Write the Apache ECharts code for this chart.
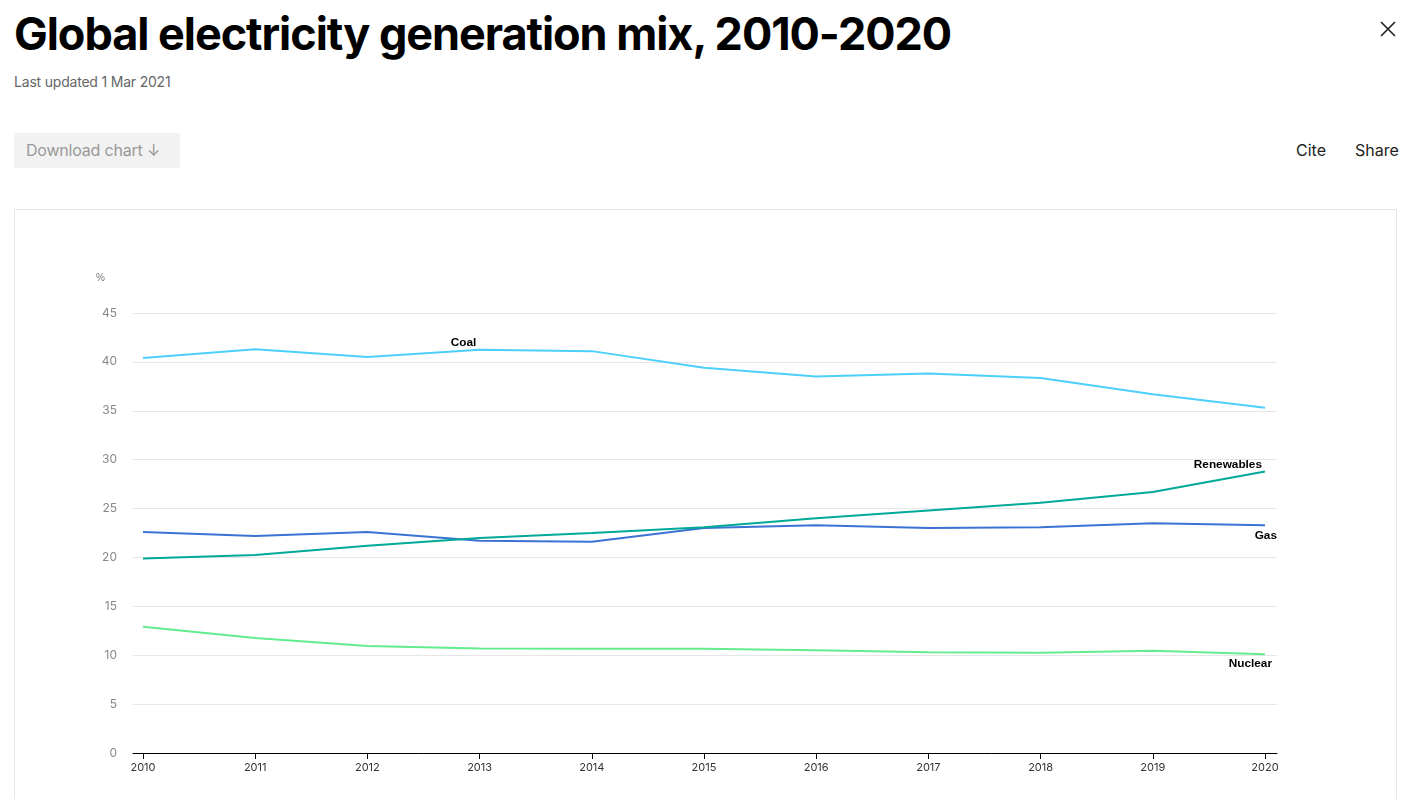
<!DOCTYPE html>
<html>
<head>
<meta charset="utf-8">
<script src="https://cdn.jsdelivr.net/npm/echarts@6/dist/echarts.min.js"></script>
<style>
  html, body { margin: 0; padding: 0; background: #fff; width: 1416px; height: 799px; overflow: hidden; font-family: Inter, "Noto Sans", sans-serif; }
  #title { position: absolute; left: 14px; top: 6px; font-size: 45px; font-weight: 700; letter-spacing: -1.05px; color: #000; white-space: nowrap; }
  #updated { position: absolute; left: 14px; top: 73px; font-size: 14px; color: #666; letter-spacing: -0.2px; }
  #dl { position: absolute; left: 14px; top: 133px; width: 166px; height: 35px; background: #f2f2f2; color: #999; font-size: 16px; line-height: 35px; box-sizing: border-box; padding-left: 12px; letter-spacing: -0.2px; }
  #cite { position: absolute; left: 1296px; top: 140px; font-size: 16px; color: #222; }
  #share { position: absolute; left: 1355px; top: 140px; font-size: 16px; color: #222; }
  #close { position: absolute; left: 1379px; top: 20px; width: 18px; height: 18px; }
  #box { position: absolute; left: 14px; top: 209px; width: 1383px; height: 640px; border: 1px solid #e6e6e6; box-sizing: border-box; }
  #chart { position: absolute; left: 0; top: 0; width: 1416px; height: 799px; }
</style>
</head>
<body>
<div id="title">Global electricity generation mix, 2010-2020</div>
<div id="updated">Last updated 1 Mar 2021</div>
<div id="dl">Download chart &#8595;</div>
<div id="cite">Cite</div>
<div id="share">Share</div>
<svg id="close" viewBox="0 0 18 18"><path d="M2 2 L16 16 M16 2 L2 16" stroke="#222" stroke-width="1.6"/></svg>
<div id="box"></div>
<div id="chart"></div>
<script>
const years = [2010, 2011, 2012, 2013, 2014, 2015, 2016, 2017, 2018, 2019, 2020];
const coal = [40.4, 41.3, 40.5, 41.25, 41.1, 39.4, 38.5, 38.8, 38.35, 36.7, 35.3];
const gas = [22.6, 22.2, 22.6, 21.7, 21.6, 23.0, 23.3, 23.0, 23.1, 23.5, 23.3];
const renewables = [19.9, 20.25, 21.2, 22.0, 22.5, 23.1, 24.0, 24.8, 25.6, 26.7, 28.8];
const nuclear = [12.9, 11.75, 10.95, 10.7, 10.65, 10.65, 10.5, 10.3, 10.25, 10.45, 10.1];
const yTicks = [0, 5, 10, 15, 20, 25, 30, 35, 40, 45];

const labelBase = { show: true, color: '#000', fontWeight: 'bold', fontSize: 11.8, fontFamily: 'Liberation Sans, Arial, sans-serif', formatter: p => p.seriesName };

function build(values, labelIdx, labelOpt) {
  return values.map((v, i) => {
    const item = { value: [years[i], v] };
    if (i === labelIdx) item.label = Object.assign({}, labelBase, labelOpt);
    return item;
  });
}

function lineSeries(name, color, values, labelIdx, labelOpt) {
  return {
    name: name,
    type: 'line',
    data: build(values, labelIdx, labelOpt),
    showSymbol: true,
    symbol: 'circle',
    symbolSize: 0,
    itemStyle: { color: color },
    lineStyle: { color: color, width: 2 },
    label: { show: false, formatter: p => p.seriesName },
    silent: true,
    animation: false
  };
}

const chart = echarts.init(document.getElementById('chart'));
chart.setOption({
  animation: false,
  grid: { left: 133, right: 139, top: 313, bottom: 46, containLabel: false },
  xAxis: {
    type: 'value',
    min: 2009.911,
    max: 2020.107,
    splitLine: { show: false },
    axisLine: { show: true, lineStyle: { color: '#000', width: 1 } },
    axisTick: { show: true, customValues: years, length: 6, lineStyle: { color: '#000' } },
    axisLabel: { customValues: years, color: '#333', fontSize: 11, margin: 9, fontFamily: 'Inter, sans-serif', formatter: v => String(v) }
  },
  yAxis: {
    type: 'value',
    min: 0,
    max: 45,
    interval: 5,
    name: '%',
    nameLocation: 'end',
    nameGap: 30,
    nameTextStyle: { color: '#777', fontSize: 10, align: 'right', padding: [0, 28, 0, 0] },
    axisLine: { show: false },
    axisTick: { show: false },
    axisLabel: { color: '#888', fontSize: 12, margin: 16, fontFamily: 'Inter, sans-serif', customValues: yTicks },
    splitLine: { lineStyle: { color: '#e6e6e6', width: 1 } }
  },
  series: [
    lineSeries('Coal', '#4cd0fb', coal, 3, { position: 'top', distance: 1, offset: [-16, 0] }),
    lineSeries('Gas', '#3b72d3', gas, 10, { position: 'bottom', distance: 5, align: 'right', offset: [12, 0] }),
    lineSeries('Renewables', '#00a998', renewables, 10, { position: 'top', distance: 1, align: 'right', offset: [-3, 0] }),
    lineSeries('Nuclear', '#62ec8e', nuclear, 10, { position: 'bottom', distance: 3, align: 'right', offset: [7, 0] })
  ]
});
</script>
</body>
</html>
